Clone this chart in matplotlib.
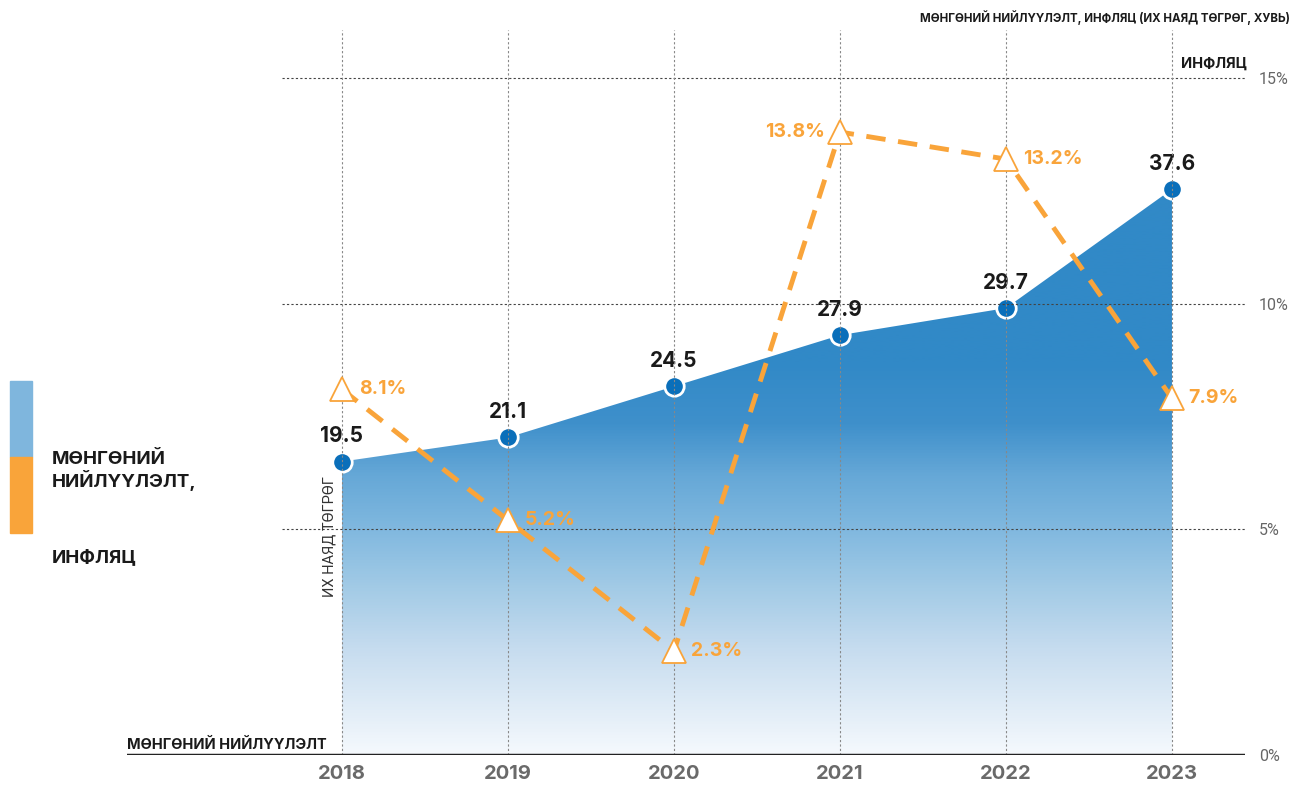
import matplotlib.pyplot as plt
import numpy as np
from matplotlib.patches import Rectangle
from matplotlib.colors import LinearSegmentedColormap

plt.rcParams['font.family'] = ['Inter', 'DejaVu Sans']

years = ['2018', '2019', '2020', '2021', '2022', '2023']
money = [19.5, 21.1, 24.5, 27.9, 29.7, 37.6]      # trillion MNT
inflation = [8.1, 5.2, 2.3, 13.8, 13.2, 7.9]      # percent
pct_ticks = [0, 5, 10, 15]

blue = '#0a6fba'
orange = '#f9a43a'
x = np.arange(len(years))

fig = plt.figure(figsize=(12.93, 7.85), dpi=100)
ax = fig.add_axes([127 / 1293, 30 / 785, 1118 / 1293, 725 / 785])
axm = ax.twinx()
ax.set_xlim(-1.295, 5.44)
ax.set_ylim(0, 16.06)

for a in (ax, axm):
    for s in a.spines.values():
        s.set_visible(False)
    a.tick_params(length=0)
axm.set_yticks([])
ax.set_zorder(axm.get_zorder() + 1)
ax.patch.set_visible(False)

# percent axis on the right
ax.yaxis.tick_right()
ax.set_yticks(pct_ticks)
ax.set_yticklabels([f'{v}%' for v in pct_ticks], color='#666666', fontsize=11.5,
                   family='Roboto')
ax.tick_params(axis='y', pad=10)
ax.set_xticks(x)
ax.set_xticklabels(years, fontsize=14.5, fontweight='bold', color='#6a6a6a')
ax.tick_params(axis='x', pad=7)

# grid
ax.hlines(pct_ticks[1:], -0.361, 5.44, colors='#444444', linestyles=(0, (2, 2)),
          linewidth=0.8, zorder=2)
ax.vlines(x, 0, 16.06, colors='#888888', linestyles=(0, (2, 2)), linewidth=0.8,
          zorder=2)
ax.axhline(0, color='#222222', linewidth=2.5, zorder=5)

# money supply gradient area (stops in money units over 0..48)
stops = [(0, '#f5f9fd'), (7, '#c6dcef'), (11, '#a3cbe6'), (15, '#80b8df'),
         (18.5, '#66a8d7'), (22, '#3f90cb'), (26, '#3189c7'), (48, '#3189c7')]
cmap = LinearSegmentedColormap.from_list('g', [(v / 48, c) for v, c in stops])
poly = axm.fill_between(x, 0, money, color='none', linewidth=0)
grad = np.linspace(0, 1, 512).reshape(-1, 1)
img = axm.imshow(grad, cmap=cmap, aspect='auto', origin='lower',
                 extent=[x[0], x[-1], 0, 48], zorder=1)
img.set_clip_path(poly.get_paths()[0], transform=axm.transData)
axm.set_xlim(-1.295, 5.44)
axm.set_ylim(0, 16.06 * 3)

axm.plot(x, money, 'o', ms=14, color=blue, mec='white', mew=2, zorder=6)
for xi, v in zip(x, money):
    axm.annotate(f'{v}', (xi, v), xytext=(0, 11), textcoords='offset points',
                 ha='center', va='bottom', fontsize=15, fontweight='bold',
                 color='#1a1a1a')

# inflation
ax.plot(x, inflation, color=orange, lw=3.5, dashes=(4, 2.6), zorder=7)
ax.plot(x, inflation, '^', ms=17, mfc='white', mec=orange, mew=1.3, zorder=8)
for xi, v in zip(x, inflation):
    if v == 13.8:
        ax.annotate(f'{v}%', (xi, v), xytext=(-11, 0), textcoords='offset points',
                    ha='right', va='center', fontsize=14, fontweight='bold', color=orange)
    else:
        ax.annotate(f'{v}%', (xi, v), xytext=(12, 0), textcoords='offset points',
                    ha='left', va='center', fontsize=14, fontweight='bold', color=orange)

# texts
fig.text(1290 / 1293, 1 - 18 / 785, 'МӨНГӨНИЙ НИЙЛҮҮЛЭЛТ, ИНФЛЯЦ (ИХ НАЯД ТӨГРӨГ, ХУВЬ)',
         ha='right', va='center', fontsize=8.3, fontweight='bold', color='#1a1a1a')
fig.text(1247 / 1293, 1 - 64 / 785, 'ИНФЛЯЦ', ha='right', va='center',
         fontsize=10.5, fontweight='bold', color='#1a1a1a')
fig.text(127 / 1293, 1 - 745 / 785, 'МӨНГӨНИЙ НИЙЛҮҮЛЭЛТ', ha='left', va='center',
         fontsize=10.5, fontweight='bold', color='#1a1a1a')
fig.text(329 / 1293, 1 - 537 / 785, 'ИХ НАЯД ТӨГРӨГ', ha='center', va='center',
         rotation=90, fontsize=10.5, color='#333333', family='Roboto')

# legend
fig.add_artist(Rectangle((10 / 1293, 1 - 457 / 785), 22 / 1293, 76 / 785,
                         transform=fig.transFigure, color='#7fb6dd'))
fig.add_artist(Rectangle((10 / 1293, 1 - 533 / 785), 22 / 1293, 76 / 785,
                         transform=fig.transFigure, color=orange))
fig.text(52 / 1293, 1 - 471 / 785, 'МӨНГӨНИЙ\nНИЙЛҮҮЛЭЛТ,', ha='left', va='center',
         fontsize=13.5, fontweight='bold', color='#1a1a1a', linespacing=1.15)
fig.text(52 / 1293, 1 - 558 / 785, 'ИНФЛЯЦ', ha='left', va='center',
         fontsize=13.5, fontweight='bold', color='#1a1a1a')

fig.savefig('out.png', dpi=100)
